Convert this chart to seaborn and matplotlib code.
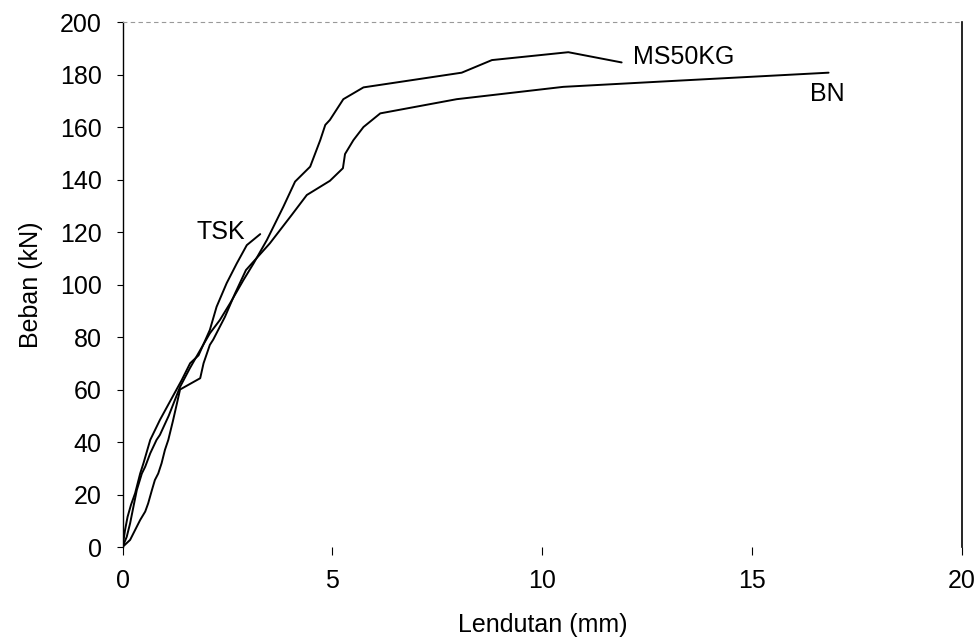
import matplotlib
matplotlib.use("Agg")
import matplotlib.pyplot as plt
import seaborn as sns
import pandas as pd

# Data (Lendutan mm, Beban kN)
tsk_x = [0, 0.06, 0.12, 0.2, 0.3, 0.42, 0.5, 0.66, 0.89, 1.17, 1.41, 1.61, 1.81, 2.08, 2.24, 2.48, 2.72, 2.96, 3.28]
tsk_y = [0, 6.5, 11.5, 16, 20.5, 28, 32, 40.8, 48.4, 56.6, 63.6, 70, 73, 82.7, 91.5, 100.5, 108, 115, 119.2]

ms_x = [0, 0.1, 0.18, 0.26, 0.34, 0.46, 0.54, 0.66, 0.81, 0.89, 1.1, 1.37, 1.6, 1.85, 2.08, 2.32, 2.56, 2.88,
        3.12, 3.44, 3.83, 4.11, 4.47, 4.71, 4.83, 4.94, 5.26, 5.74, 8.08, 8.8, 10.62, 11.89]
ms_y = [0, 3.9, 9, 15.4, 21.7, 28, 30.6, 35.7, 40.8, 42.7, 50, 61, 68, 75, 81.4, 86.5, 92.8, 101.7,
        108, 117, 129.6, 139.2, 144.9, 155, 160.8, 162.7, 170.6, 175.1, 180.7, 185.5, 188.5, 184.6]

bn_x = [0, 0.18, 0.3, 0.42, 0.54, 0.61, 0.7, 0.77, 0.85, 0.93, 1.01, 1.09, 1.2, 1.3, 1.37, 1.85, 1.93, 2.08,
        2.16, 2.44, 2.68, 2.94, 3.51, 4.03, 4.39, 4.94, 5.25, 5.3, 5.5, 5.74, 6.14, 7.96, 10.5, 13.05, 16.82]
bn_y = [0, 2.7, 6.5, 10.3, 13.5, 16.6, 21.7, 25.5, 28, 31.9, 37, 40.8, 48, 55, 60, 64.3, 70, 77,
        79, 87.7, 96.6, 105.5, 115.7, 126.5, 134.1, 139.5, 144.3, 149.7, 155, 160, 165.2, 170.6, 175.3, 177.5, 180.7]

labels = ["TSK", "MS50KG", "BN"]
label_pos = [(2.33, 120), (12.15, 186.7), (16.8, 172.6)]
label_ha = ["center", "left", "center"]

x_ticks = [0, 5, 10, 15, 20]
y_ticks = [0, 20, 40, 60, 80, 100, 120, 140, 160, 180, 200]

sns.set_theme(style="white")
plt.rcParams["font.family"] = ["Liberation Sans", "DejaVu Sans"]

frames = []
for name, xs, ys in [("TSK", tsk_x, tsk_y), ("MS50KG", ms_x, ms_y), ("BN", bn_x, bn_y)]:
    frames.append(pd.DataFrame({"x": xs, "y": ys, "series": name}))
df = pd.concat(frames, ignore_index=True)

fig = plt.figure(figsize=(9.78, 6.40), dpi=100)
ax = fig.add_axes([0.1253, 0.1453, 0.8584, 0.8203])

sns.lineplot(data=df, x="x", y="y", units="series", estimator=None, sort=False,
             color="black", linewidth=1.4, ax=ax, legend=False)

for lab, (lx, ly), ha in zip(labels, label_pos, label_ha):
    ax.text(lx, ly, lab, ha=ha, va="center", fontsize=18, color="black")

ax.set_xlim(0, 20)
ax.set_ylim(0, 200)
ax.set_xticks(x_ticks)
ax.set_yticks(y_ticks)
ax.tick_params(axis="x", direction="out", length=6, width=0.8, pad=10, labelsize=18, colors="black", bottom=True)
ax.tick_params(axis="y", direction="out", length=4, width=0.8, pad=11, labelsize=18, colors="black", left=True)
ax.set_xlabel("Lendutan (mm)", fontsize=18, labelpad=14, color="black")
ax.set_ylabel("Beban (kN)", fontsize=18, labelpad=12, color="black")

ax.spines["left"].set_color("black")
ax.spines["left"].set_linewidth(1.0)
ax.spines["right"].set_color("black")
ax.spines["right"].set_linewidth(1.2)
ax.spines["top"].set_color("#999999")
ax.spines["top"].set_linestyle((0, (3, 4)))
ax.spines["top"].set_linewidth(0.8)
ax.spines["bottom"].set_visible(False)

fig.savefig("out.png", dpi=100, facecolor="white")
